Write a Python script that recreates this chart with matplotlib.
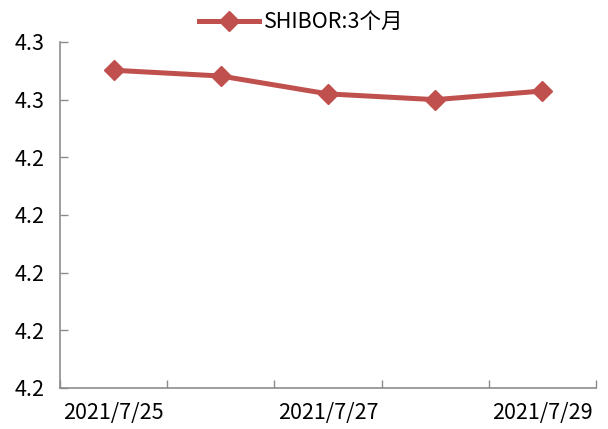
import matplotlib
matplotlib.use("Agg")
import matplotlib.pyplot as plt
from matplotlib.ticker import FixedLocator, FuncFormatter
from decimal import Decimal, ROUND_HALF_UP

plt.rcParams['font.family'] = ['Noto Sans CJK SC', 'DejaVu Sans']

# data
dates = ["2021/7/25", "2021/7/26", "2021/7/27", "2021/7/28", "2021/7/29"]
shibor_3m = [4.2551, 4.2541, 4.2510, 4.2500, 4.2515]
y_ticks = [4.20, 4.21, 4.22, 4.23, 4.24, 4.25, 4.26]
series_name = "SHIBOR:3个月"

red = "#C0504D"
grey = "#8C8C8C"

fig = plt.figure(figsize=(6.08, 4.29), dpi=100)
ax = fig.add_axes([0.0987, 0.0956, 0.8816, 0.8065])

x = list(range(len(dates)))
ax.plot(x, shibor_3m, color=red, linewidth=3.6, marker="D", markersize=10,
        label=series_name, solid_joinstyle="round")

ax.set_xlim(-0.5, len(dates) - 0.5)
ax.set_ylim(y_ticks[0], y_ticks[-1])

# category axis: tick marks between categories, labels every other date
ax.xaxis.set_major_locator(FixedLocator([i - 0.5 for i in range(len(dates) + 1)]))
ax.xaxis.set_major_formatter(FuncFormatter(lambda v, p: ""))
ax.xaxis.set_minor_locator(FixedLocator(x[::2]))
ax.set_xticklabels([dates[i] for i in x[::2]], minor=True)
ax.tick_params(axis="x", which="minor", length=0, pad=10, labelsize=15.5)
ax.tick_params(axis="x", which="major", direction="in", length=6, width=1, color=grey)

def half_up(v, p):
    return str(Decimal(str(round(v, 4))).quantize(Decimal("0.1"), rounding=ROUND_HALF_UP))

ax.yaxis.set_major_locator(FixedLocator(y_ticks))
ax.yaxis.set_major_formatter(FuncFormatter(half_up))
ax.tick_params(axis="y", direction="in", length=6, width=1, color=grey, pad=11, labelsize=15.5)

for s in ["top", "right"]:
    ax.spines[s].set_visible(False)
for s in ["left", "bottom"]:
    ax.spines[s].set_color(grey)
    ax.spines[s].set_linewidth(1.2)

leg = ax.legend(loc="upper center", bbox_to_anchor=(0.45, 1.145), frameon=False,
                fontsize=15.5, handlelength=2.8, handletextpad=0.25)

fig.savefig("out.png", dpi=100)
